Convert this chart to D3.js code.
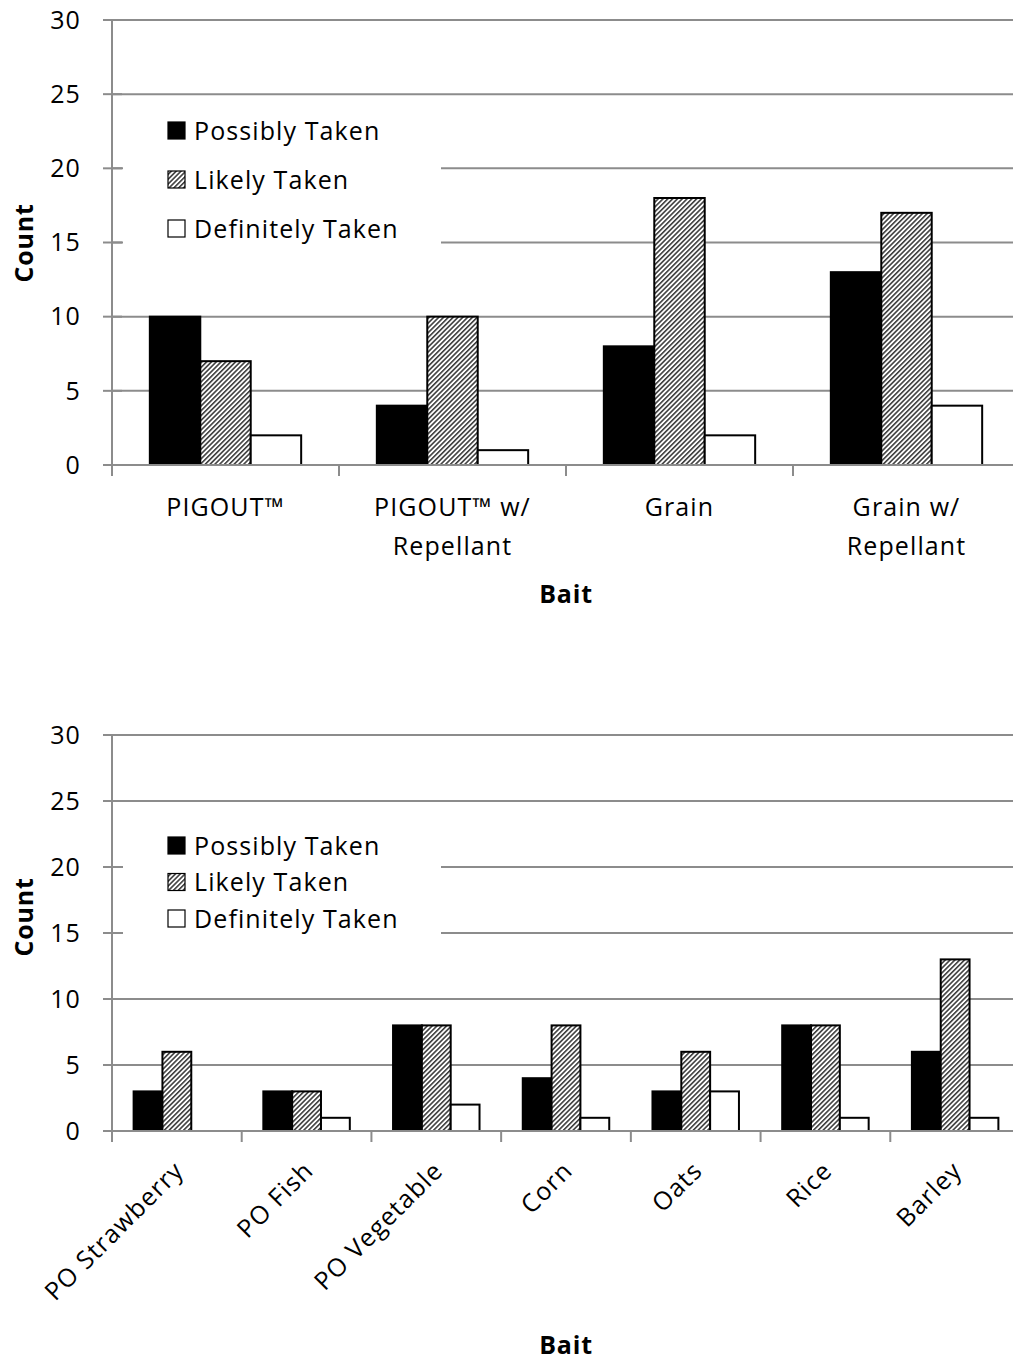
<!DOCTYPE html>
<html><head><meta charset="utf-8">
<script src="https://cdn.jsdelivr.net/npm/d3@7"></script>
<style>body{margin:0;background:#fff}svg{display:block}text{font-family:"Open Sans",Lato,sans-serif;fill:#000}</style>
</head><body><svg id="c" width="1013" height="1361"></svg>
<script>
const seriesNames = ["Possibly Taken","Likely Taken","Definitely Taken"];
const yTicks = [0,5,10,15,20,25,30];

const topCategories = ["PIGOUT™","PIGOUT™ w/|Repellant","Grain","Grain w/|Repellant"];
const topPossibly = [10,4,8,13];
const topLikely = [7,10,18,17];
const topDefinitely = [2,1,2,4];

const botCategories = ["PO Strawberry","PO Fish","PO Vegetable","Corn","Oats","Rice","Barley"];
const botPossibly = [3,3,8,4,3,8,6];
const botLikely = [6,3,8,8,6,8,13];
const botDefinitely = [0,1,2,1,3,1,1];

const svg = d3.select("#c");
const defs = svg.append("defs");
const pat = defs.append("pattern").attr("id","hatch").attr("patternUnits","userSpaceOnUse")
  .attr("width",3.4).attr("height",3.4).attr("patternTransform","rotate(45)");
pat.append("rect").attr("width",3.4).attr("height",3.4).attr("fill","#fff");
pat.append("line").attr("x1",0.8).attr("y1",0).attr("x2",0.8).attr("y2",3.4).attr("stroke","#222").attr("stroke-width",1.4);
const fills = ["#000","url(#hatch)","#fff"];
const grid = "#8c8c8c";
const FS = 25, LS = "1.1px";

function chart(o){
  const g = svg.append("g");
  const x = d3.scaleBand().domain(o.cats.map((d,i)=>i)).range([o.left,o.right]);
  const y = d3.scaleLinear().domain([0,30]).range([o.bottom,o.top]);
  const bw = x.bandwidth()/4.5;
  g.selectAll(".gl").data(yTicks.filter(d=>d>0)).join("line")
    .attr("x1",o.left).attr("x2",o.right).attr("y1",d=>y(d)).attr("y2",d=>y(d))
    .attr("stroke",grid).attr("stroke-width",2);
  g.append("rect").attr("x",o.left+11).attr("y",o.legTop).attr("width",o.legW).attr("height",o.legH).attr("fill","#fff");
  g.selectAll(".yt").data(yTicks).join("line")
    .attr("x1",o.left-9).attr("x2",o.left+10).attr("y1",d=>y(d)).attr("y2",d=>y(d))
    .attr("stroke",grid).attr("stroke-width",2);
  g.selectAll(".yl").data(yTicks).join("text")
    .attr("x",o.left-31).attr("y",d=>y(d)).attr("dy","0.35em").attr("text-anchor","end")
    .attr("font-size",FS).attr("letter-spacing",LS).text(d=>d);
  o.series.forEach((vals,si)=>{
    g.selectAll(".b"+si).data(vals).join("rect")
      .attr("x",(d,i)=>x(i)+bw*0.75+si*bw).attr("width",bw)
      .attr("y",d=>y(d)).attr("height",d=>y(0)-y(d))
      .attr("fill",fills[si]).attr("stroke",d=>d>0?"#000":"none").attr("stroke-width",2);
  });
  g.append("line").attr("x1",o.left).attr("x2",o.left).attr("y1",o.top).attr("y2",o.bottom+10).attr("stroke",grid).attr("stroke-width",2);
  g.append("line").attr("x1",o.left).attr("x2",o.right).attr("y1",o.bottom).attr("y2",o.bottom).attr("stroke",grid).attr("stroke-width",2);
  g.selectAll(".xt").data(d3.range(o.cats.length+1)).join("line")
    .attr("x1",d=>o.left+d*x.step()).attr("x2",d=>o.left+d*x.step())
    .attr("y1",o.bottom).attr("y2",o.bottom+11).attr("stroke",grid).attr("stroke-width",2);
  if(!o.rotate){
    o.cats.forEach((c,i)=>{
      const t = g.append("text").attr("text-anchor","middle").attr("font-size",FS).attr("letter-spacing",LS);
      c.split("|").forEach((ln,j)=>t.append("tspan").attr("x",x(i)+x.bandwidth()/2).attr("y",o.bottom+51+j*39).text(ln));
    });
  } else {
    o.cats.forEach((c,i)=>{
      const cx = x(i)+x.bandwidth()/2+2, cy = o.bottom+35;
      g.append("text").attr("text-anchor","end").attr("font-size",FS).attr("letter-spacing",LS)
        .attr("transform",`translate(${cx},${cy}) rotate(-45)`).attr("dy","0.35em").text(c);
    });
  }
  seriesNames.forEach((s,i)=>{
    const ly = o.legRow0 + i*o.legStep;
    g.append("rect").attr("x",168).attr("y",ly-8).attr("width",17).attr("height",17)
      .attr("fill",fills[i]).attr("stroke","#000").attr("stroke-width",1.2);
    g.append("text").attr("x",194).attr("y",ly+1).attr("dy","0.35em").attr("font-size",FS).attr("letter-spacing",LS).text(s);
  });
  g.append("text").attr("x",(o.left+o.right)/2).attr("y",o.xTitleY).attr("text-anchor","middle")
    .attr("font-size",25).attr("font-weight","bold").attr("letter-spacing","0.8px").text("Bait");
  g.append("text").attr("transform",`translate(33,${o.yTitleY}) rotate(-90)`).attr("text-anchor","middle")
    .attr("font-size",25).attr("font-weight","bold").attr("letter-spacing","0.8px").text("Count");
}

chart({cats:topCategories, series:[topPossibly,topLikely,topDefinitely], left:112, right:1020, top:20, bottom:465,
  legTop:103, legW:318, legH:150, legRow0:130, legStep:49, xTitleY:603, yTitleY:243, rotate:false});
chart({cats:botCategories, series:[botPossibly,botLikely,botDefinitely], left:112, right:1020, top:735, bottom:1131,
  legTop:825, legW:318, legH:115, legRow0:845, legStep:36.5, xTitleY:1354, yTitleY:917, rotate:true});
</script></body></html>
